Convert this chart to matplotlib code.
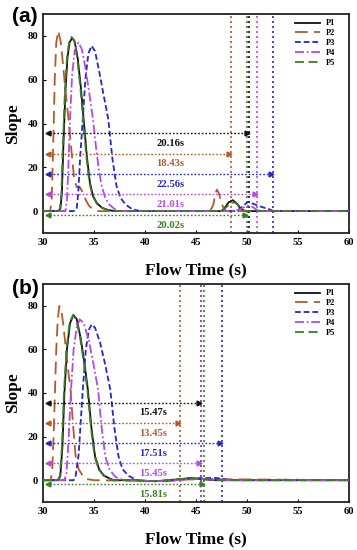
import matplotlib
matplotlib.use("Agg")
import matplotlib.pyplot as plt

# ---------------- data ----------------
series = ["P1", "P2", "P3", "P4", "P5"]

# Panel (a)
a_p1_x = [30.0, 31.5, 31.7, 31.85, 32.0, 32.2, 32.4, 32.6, 32.85, 33.1, 33.4, 33.7, 34.0, 34.3, 34.6, 34.9, 35.3, 35.8, 36.4, 37.0,
          47.5, 47.9, 48.2, 48.6, 49.0, 49.3, 49.7, 60.0]
a_p1_y = [0, 0, 1, 8, 30, 55, 70, 77, 79, 77.5, 70, 57, 41, 25, 13, 7, 3.5, 1.5, 0.5, 0,
          0, 2, 4, 5.0, 3.5, 1.5, 0, 0]
a_p2_x = [30.0, 30.7, 30.85, 31.0, 31.15, 31.3, 31.5, 31.75, 32.0, 32.16, 32.5, 32.8, 33.05, 33.3, 33.6, 33.9, 34.2, 34.5, 34.9, 35.4,
          46.4, 46.7, 46.9, 47.05, 47.25, 47.5, 47.8, 48.1, 60.0]
a_p2_y = [0, 0, 5, 30, 60, 77, 82.3, 77, 65, 57, 42, 27, 15, 11, 11, 8.5, 5, 2.5, 0.8, 0,
          0, 3, 8, 9.8, 8, 3.5, 0.5, 0, 0]
a_p3_x = [30.0, 33.0, 33.3, 33.45, 33.65, 33.9, 34.15, 34.45, 34.77, 35.1, 35.5, 35.9, 36.4, 36.8, 37.2, 37.6, 38.1, 38.7, 39.5,
          49.0, 49.5, 50.1, 50.8, 51.5, 52.2, 52.6, 60.0]
a_p3_y = [0, 0, 1, 8, 25, 42, 60, 72, 75.5, 73, 64, 54, 42, 24, 11.6, 6, 3, 1, 0,
          0, 2, 4.2, 3, 1.8, 0.8, 0, 0]
a_p4_x = [30.0, 32.2, 32.35, 32.5, 32.65, 32.85, 33.1, 33.46, 33.8, 34.1, 34.5, 34.9, 35.2, 35.5, 35.75, 36.1, 36.5, 37.0, 37.5,
          48.8, 49.4, 50.0, 50.5, 51.0, 51.3, 60.0]
a_p4_y = [0, 0, 5, 22, 42, 62, 73, 77, 74, 67, 55, 42, 29, 18, 11.6, 6, 3, 1, 0,
          0, 1, 2.5, 2, 0.5, 0, 0]
a_p5_x = [30.0, 31.45, 31.65, 31.8, 31.95, 32.15, 32.35, 32.55, 32.8, 33.05, 33.35, 33.65, 33.95, 34.25, 34.55, 34.85, 35.25, 35.75, 36.35, 37.0,
          47.6, 48.0, 48.4, 48.8, 49.2, 49.7, 50.0, 60.0]
a_p5_y = [0, 0, 1, 8, 30, 55, 70, 77, 79.5, 78, 70, 57, 41, 25, 13, 7, 3.5, 1.5, 0.5, 0,
          0, 2, 3.5, 4, 2.5, 0.3, 0, 0]

# Panel (b)
b_p1_x = [30.0, 31.5, 31.7, 31.9, 32.1, 32.35, 32.65, 32.97, 33.3, 33.7, 34.05, 34.4, 34.75, 35.1, 35.5, 36.0, 36.9,
          39.0, 41.0, 43.0, 44.5, 45.5, 47.0, 60.0]
b_p1_y = [0, 0, 2, 15, 40, 60, 72, 75.8, 74, 65, 54, 41.5, 24, 11, 5, 2, 0,
          0, -0.5, 0.3, 1, 0.5, 0, 0]
b_p2_x = [30.0, 30.75, 30.9, 31.05, 31.18, 31.3, 31.45, 31.6, 31.8, 32.0, 32.2, 32.45, 32.7, 32.95, 33.2, 33.5, 33.9, 34.3, 35.0,
          40.0, 42.0, 44.0, 46.0, 60.0]
b_p2_y = [0, 0, 4, 22, 41.5, 60, 74, 79.9, 78, 71, 62, 51, 41.5, 25, 11, 5, 2, 0.5, 0,
          -0.3, -0.5, 0.3, 0.5, 0]
b_p3_x = [30.0, 33.0, 33.2, 33.5, 33.9, 34.2, 34.5, 34.77, 35.1, 35.6, 36.1, 36.6, 37.0, 37.4, 37.8, 38.4, 39.2,
          40.0, 42.0, 44.0, 45.5, 47.0, 48.0, 49.0, 60.0]
b_p3_y = [0, 0, 2, 12, 41.5, 60, 69, 71.5, 70, 63, 53, 41.5, 24, 11, 5, 2, 0,
          -0.5, -0.3, 0.5, 1, 1, 0.3, 0, 0]
b_p4_x = [30.0, 32.1, 32.3, 32.5, 32.75, 33.0, 33.3, 33.6, 34.0, 34.5, 35.0, 35.4, 35.75, 36.1, 36.5, 37.1, 37.9,
          40.0, 42.0, 44.0, 45.5, 47.0, 60.0]
b_p4_y = [0, 0, 3, 18, 41.5, 60, 70, 73.8, 72, 64, 52, 41.5, 24, 11, 5, 1.5, 0,
          -0.3, -0.4, 0.4, 0.8, 0, 0]
b_p5_x = [30.0, 31.45, 31.65, 31.85, 32.05, 32.3, 32.6, 32.92, 33.25, 33.65, 34.0, 34.35, 34.7, 35.05, 35.45, 35.95, 36.85,
          39.0, 41.0, 43.0, 44.5, 45.8, 47.0, 60.0]
b_p5_y = [0, 0, 2, 15, 40, 60, 72, 75.5, 74, 65, 54, 41.5, 24, 11, 5, 2, 0,
          0, -0.5, 0.4, 0.8, 0.5, 0, 0]

# Durations (s), measured from t = 30 s
durations_a = [20.16, 18.43, 22.56, 21.01, 20.02]
durations_b = [15.47, 13.45, 17.51, 15.45, 15.81]
t_start = 30.0

x_ticks = [30, 35, 40, 45, 50, 55, 60]
y_ticks = [0, 20, 40, 60, 80]

# ---------------- styles ----------------
colors = ["#111111", "#b35a2c", "#2626cc", "#b748e8", "#3d7d2a"]
dashes = [None, (7, 3.5), (3.2, 1.6), (5, 1.5, 1, 1.5), (5, 2.5)]
arrow_y = [35.5, 26.2, 16.9, 7.7, -1.8]
label_dy = 4.6
label_x = {"a": 42.5, "b": 40.8}

serif = "Liberation Serif"

fig = plt.figure(figsize=(3.57, 5.5), dpi=100)
axes_pos = {"a": [43 / 357, 1 - 233 / 550, 306 / 357, 219 / 550],
            "b": [43 / 357, 1 - 502 / 550, 306 / 357, 218 / 550]}

panels = {
    "a": ([a_p1_x, a_p2_x, a_p3_x, a_p4_x, a_p5_x], [a_p1_y, a_p2_y, a_p3_y, a_p4_y, a_p5_y], durations_a),
    "b": ([b_p1_x, b_p2_x, b_p3_x, b_p4_x, b_p5_x], [b_p1_y, b_p2_y, b_p3_y, b_p4_y, b_p5_y], durations_b),
}

for key, (xs, ys, durs) in panels.items():
    ax = fig.add_axes(axes_pos[key])
    handles = []
    for i, name in enumerate(series):
        ln, = ax.plot(xs[i], ys[i], color=colors[i], lw=1.3, label=name, zorder=3)
        if dashes[i] is not None:
            ln.set_dashes(dashes[i])
        handles.append(ln)
    for i, d in enumerate(durs):
        xe = t_start + d
        ax.axvline(xe, color=colors[i], ls=(0, (1.2, 1.8)), lw=1.2, zorder=2)
        y = arrow_y[i]
        ax.plot([30.25, xe], [y, y], color=colors[i], ls=(0, (1.2, 1.4)), lw=1.0, zorder=4)
        ax.plot([30.45], [y], marker="<", color=colors[i], ms=3.5, zorder=5)
        ax.plot([xe - 0.2], [y], marker=">", color=colors[i], ms=3.5, zorder=5)
        ax.text(label_x[key], y - label_dy, f"{d:.2f}s", color=colors[i], ha="center", va="center",
                fontsize=7.6, fontweight="bold", family=serif, zorder=6)

    ax.set_xlim(30, 60)
    ax.set_ylim(-10, 90)
    ax.set_xticks(x_ticks)
    ax.set_yticks(y_ticks)
    ax.set_xticklabels([str(t) for t in x_ticks], fontsize=7.6, fontweight="bold", family=serif)
    ax.set_yticklabels([str(t) for t in y_ticks], fontsize=7.6, fontweight="bold", family=serif)
    ax.tick_params(direction="in", length=2.5, width=0.8, pad=3.5)
    for s in ax.spines.values():
        s.set_linewidth(1.3)
        s.set_color("#222222")
    ax.set_xlabel("Flow Time (s)", fontsize=12.5, fontweight="bold", family=serif, labelpad=11)
    ax.set_ylabel("Slope", fontsize=12.5, fontweight="bold", family=serif, labelpad=5)

    ax.legend(handles=handles, loc="upper left", bbox_to_anchor=(0.823, 0.975), frameon=False,
              borderpad=0, borderaxespad=0, handlelength=3.0, handletextpad=0.7, labelspacing=0.22,
              prop={"family": serif, "weight": "bold", "size": 6.0})

    fig.text(12 / 357, 1 - (17 if key == "a" else 288) / 550, f"({key})", fontsize=15, fontweight="bold",
             family="Liberation Sans", ha="left", va="center")

fig.savefig("out.png", dpi=100)
